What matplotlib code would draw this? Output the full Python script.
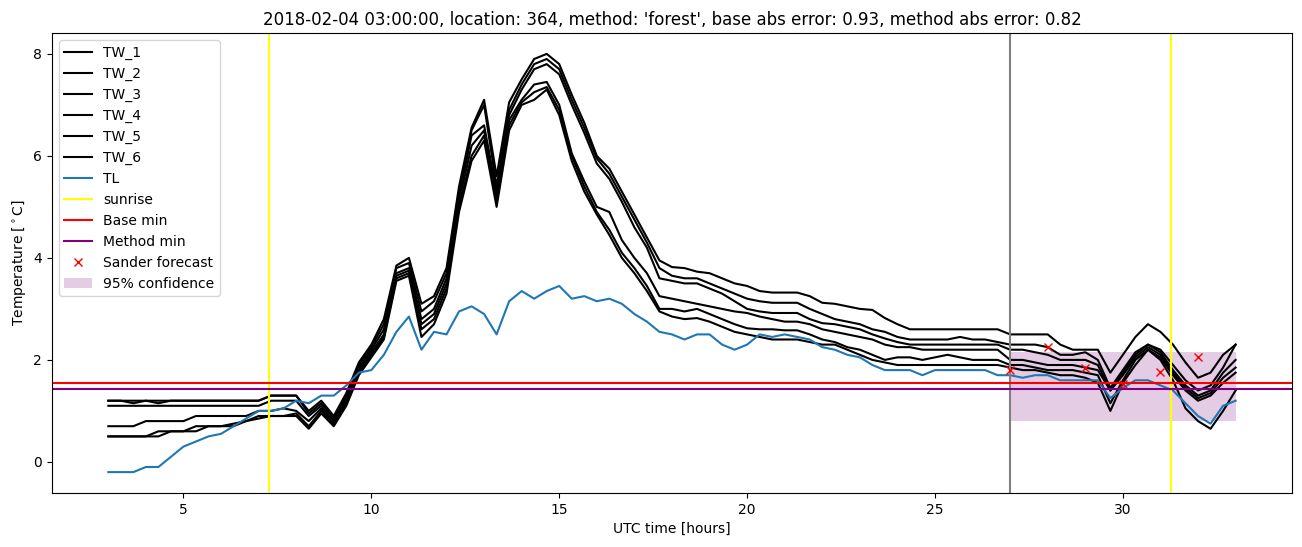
import numpy as np
import matplotlib
matplotlib.use("Agg")
import matplotlib.pyplot as plt

# time grid (hours UTC), 20-minute steps
hours = np.linspace(3, 33, 91)

tw_1 = [1.2]*13 + [1.3, 1.3, 1.3,
        1.0, 1.2, 0.9, 1.35, 1.95, 2.3, 2.8, 3.85, 4.0, 3.1, 3.25, 3.8, 5.4, 6.55, 7.1, 5.6, 7.05, 7.5, 7.9, 8.0,
        7.8, 7.2, 6.65, 6.0, 5.75, 5.3, 4.85, 4.4, 3.95, 3.82, 3.8, 3.73, 3.7, 3.6, 3.5, 3.45, 3.35, 3.32, 3.32, 3.32,
        3.25, 3.12, 3.1, 3.05, 3.0, 2.98, 2.82, 2.7, 2.6, 2.6, 2.6, 2.6, 2.6, 2.6, 2.6, 2.6,
        2.5, 2.5, 2.5, 2.5, 2.3, 2.2, 2.2, 2.2, 1.75, 2.1, 2.45, 2.7, 2.55, 2.3, 1.95, 1.65, 1.75, 2.1, 2.3]
tw_2 = [1.2, 1.2, 1.15, 1.2, 1.15, 1.2, 1.2, 1.2, 1.2, 1.2, 1.2, 1.2, 1.2, 1.3, 1.3, 1.3,
        0.95, 1.15, 0.85, 1.3, 1.9, 2.25, 2.7, 3.8, 3.9, 2.95, 3.15, 3.7, 5.3, 6.5, 7.0, 5.4, 6.9, 7.4, 7.8, 7.9,
        7.7, 7.1, 6.55, 5.95, 5.65, 5.2, 4.75, 4.3, 3.8, 3.65, 3.6, 3.6, 3.5, 3.4, 3.3, 3.2, 3.15, 3.12, 3.12, 3.12,
        3.0, 2.9, 2.8, 2.75, 2.7, 2.6, 2.55, 2.45, 2.4, 2.4, 2.4, 2.4, 2.45, 2.4, 2.4, 2.35,
        2.3, 2.3, 2.3, 2.25, 2.1, 2.1, 2.15, 2.0, 1.45, 1.8, 2.15, 2.3, 2.2, 1.9, 1.6, 1.4, 1.5, 1.85, 2.3]
tw_3 = [1.1]*13 + [1.2, 1.2, 1.2,
        0.9, 1.1, 0.8, 1.25, 1.85, 2.2, 2.6, 3.7, 3.8, 2.8, 3.0, 3.6, 5.2, 6.4, 6.6, 5.3, 6.8, 7.3, 7.7, 7.8,
        7.6, 7.0, 6.45, 5.85, 5.55, 5.1, 4.6, 4.2, 3.6, 3.55, 3.5, 3.5, 3.4, 3.3, 3.15, 3.0, 2.95, 2.92, 2.92, 2.92,
        2.8, 2.72, 2.7, 2.65, 2.6, 2.5, 2.42, 2.35, 2.3, 2.3, 2.3, 2.3, 2.3, 2.3, 2.3, 2.3,
        2.2, 2.2, 2.15, 2.1, 2.0, 2.0, 2.0, 1.9, 1.4, 1.75, 2.1, 2.3, 2.15, 1.8, 1.5, 1.3, 1.4, 1.75, 2.0]
tw_4 = [0.7, 0.7, 0.7, 0.8, 0.8, 0.8, 0.8, 0.9, 0.9, 0.9, 0.9, 0.9, 1.0, 1.0, 1.05, 1.0,
        0.8, 1.05, 0.75, 1.2, 1.8, 2.15, 2.5, 3.65, 3.75, 2.7, 2.9, 3.5, 5.1, 6.2, 6.5, 5.2, 6.7, 7.1, 7.4, 7.45,
        7.0, 6.05, 5.5, 5.0, 4.9, 4.35, 4.0, 3.7, 3.25, 3.2, 3.15, 3.1, 3.05, 3.0, 2.95, 2.92, 2.85, 2.8, 2.75, 2.75,
        2.7, 2.6, 2.55, 2.5, 2.45, 2.4, 2.3, 2.25, 2.25, 2.2, 2.2, 2.2, 2.2, 2.2, 2.2, 2.2,
        2.0, 2.0, 1.95, 1.9, 1.9, 1.9, 1.85, 1.8, 1.4, 1.7, 2.05, 2.25, 2.1, 1.75, 1.45, 1.25, 1.35, 1.65, 1.85]
tw_5 = [0.5, 0.5, 0.5, 0.5, 0.6, 0.6, 0.6, 0.7, 0.7, 0.7, 0.7, 0.8, 0.9, 0.9, 0.9, 0.95,
        0.7, 1.0, 0.72, 1.15, 1.75, 2.1, 2.45, 3.6, 3.7, 2.6, 2.8, 3.4, 5.0, 6.0, 6.4, 5.1, 6.6, 7.05, 7.25, 7.35,
        6.9, 6.0, 5.4, 4.9, 4.55, 4.1, 3.8, 3.45, 3.0, 3.0, 2.95, 3.0, 2.9, 2.8, 2.7, 2.62, 2.6, 2.6, 2.58, 2.58,
        2.5, 2.4, 2.35, 2.25, 2.2, 2.1, 2.0, 2.05, 2.05, 2.0, 2.05, 2.1, 2.05, 2.0, 2.0, 2.0,
        1.9, 1.9, 1.85, 1.8, 1.8, 1.8, 1.75, 1.7, 1.15, 1.6, 2.0, 2.2, 2.05, 1.7, 1.4, 1.2, 1.3, 1.55, 1.75]
tw_6 = [0.5, 0.5, 0.5, 0.5, 0.5, 0.6, 0.6, 0.6, 0.7, 0.7, 0.75, 0.8, 0.85, 0.9, 0.9, 0.9,
        0.65, 0.95, 0.7, 1.1, 1.7, 2.05, 2.4, 3.55, 3.65, 2.45, 2.7, 3.3, 4.9, 5.9, 6.3, 5.0, 6.5, 7.0, 7.1, 7.3,
        6.8, 5.9, 5.3, 4.85, 4.45, 4.0, 3.7, 3.35, 2.95, 2.85, 2.8, 2.82, 2.75, 2.65, 2.55, 2.5, 2.45, 2.4, 2.4, 2.4,
        2.35, 2.3, 2.3, 2.2, 2.1, 2.0, 1.95, 1.9, 1.9, 1.9, 1.9, 1.9, 1.9, 1.9, 1.9, 1.9,
        1.85, 1.8, 1.8, 1.75, 1.7, 1.7, 1.65, 1.55, 1.0, 1.55, 1.9, 2.2, 2.0, 1.6, 1.05, 0.8, 0.65, 1.0, 1.4]
tl = [-0.2, -0.2, -0.2, -0.1, -0.1, 0.1, 0.3, 0.4, 0.5, 0.55, 0.7, 0.85, 1.0, 1.0, 1.05, 1.2,
      1.15, 1.3, 1.3, 1.5, 1.75, 1.8, 2.1, 2.55, 2.85, 2.2, 2.55, 2.5, 2.95, 3.05, 2.9, 2.5, 3.15, 3.35, 3.2, 3.35,
      3.45, 3.2, 3.25, 3.15, 3.2, 3.1, 2.9, 2.75, 2.55, 2.5, 2.4, 2.5, 2.5, 2.3, 2.2, 2.3, 2.5, 2.45, 2.5, 2.45,
      2.4, 2.25, 2.2, 2.1, 2.05, 1.9, 1.8, 1.8, 1.8, 1.7, 1.8, 1.8, 1.8, 1.8, 1.8, 1.7,
      1.7, 1.65, 1.7, 1.7, 1.6, 1.6, 1.6, 1.6, 1.25, 1.45, 1.6, 1.6, 1.5, 1.4, 1.15, 0.9, 0.75, 1.1, 1.2]

tw_series = {"TW_1": tw_1, "TW_2": tw_2, "TW_3": tw_3, "TW_4": tw_4, "TW_5": tw_5, "TW_6": tw_6}

sunrise_hours = [7.27, 31.27]
forecast_start = 27.0
base_min = 1.54
method_min = 1.42
forecast_hours = [27, 28, 29, 30, 31, 32]
forecast_values = [1.8, 2.26, 1.84, 1.53, 1.77, 2.05]
conf_hours = [27, 33]
conf_low = [0.81, 0.81]
conf_high = [2.16, 2.16]

title = ("2018-02-04 03:00:00, location: 364, method: 'forest', "
         "base abs error: 0.93, method abs error: 0.82")

fig = plt.figure(figsize=(13.02, 5.47), dpi=100)
ax = fig.add_subplot(111)
fig.subplots_adjust(left=0.0399, right=0.9923, bottom=0.0987, top=0.9397)

for name, vals in tw_series.items():
    ax.plot(hours, vals, color="black", label=name)
ax.plot(hours, tl, color="#1f77b4", label="TL")
for i, s in enumerate(sunrise_hours):
    ax.axvline(s, color="yellow", label="sunrise" if i == 0 else None)
ax.axvline(forecast_start, color="gray")
ax.axhline(base_min, color="red", label="Base min")
ax.axhline(method_min, color="purple", label="Method min")
ax.plot(forecast_hours, forecast_values, "rx", label="Sander forecast")
ax.fill_between(conf_hours, conf_low, conf_high, color="purple", alpha=0.2,
                linewidth=0, label="95% confidence")

ax.set_title(title)
ax.set_xlabel("UTC time [hours]")
ax.set_ylabel(r"Temperature [$^\circ$C]")
ax.legend(loc="upper left")

fig.savefig("out.png", dpi=100)
